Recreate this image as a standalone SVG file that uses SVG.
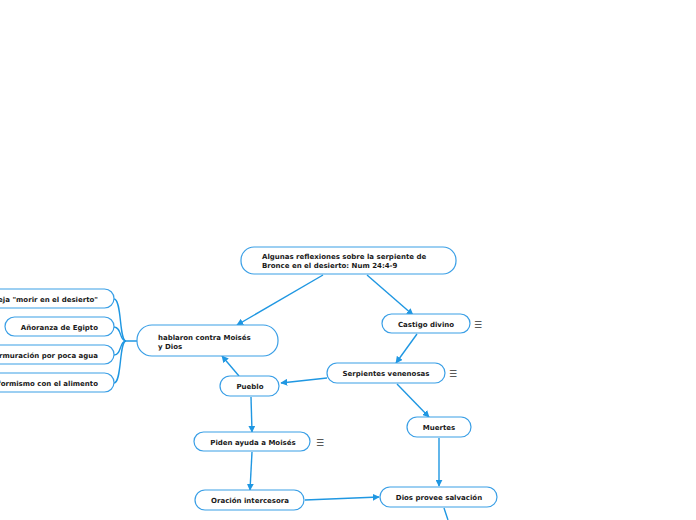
<svg xmlns="http://www.w3.org/2000/svg" width="696" height="520" viewBox="0 0 696 520">
<style>
.n{fill:#fff;stroke:#3a9fe6;stroke-width:1.2}
.t{font-family:"DejaVu Sans",Verdana,sans-serif;font-size:7px;font-weight:bold;fill:#1a1a1a}
.c{fill:none;stroke:#1f97e2;stroke-width:1.4}
.i{font-family:"DejaVu Sans",sans-serif;font-size:9px;fill:#333}
</style>
<defs>
<marker id="a" viewBox="0 0 10 10" refX="9" refY="5" markerWidth="7" markerHeight="7" markerUnits="userSpaceOnUse" orient="auto">
<path d="M0,0 L10,5 L0,10 z" fill="#1f97e2"/>
</marker>
</defs>
<rect width="696" height="520" fill="#fff"/>
<g id="connectors">
<path class="c" d="M323,275 L237,325" marker-end="url(#a)"/>
<path class="c" d="M367,275 L413,315" marker-end="url(#a)"/>
<path class="c" d="M417,334 L396,363" marker-end="url(#a)"/>
<path class="c" d="M327,378 L281,383" marker-end="url(#a)"/>
<path class="c" d="M397,384 L429,417" marker-end="url(#a)"/>
<path class="c" d="M239,376 L222,356" marker-end="url(#a)"/>
<path class="c" d="M251,397 L252,432" marker-end="url(#a)"/>
<path class="c" d="M252,452 L250,490" marker-end="url(#a)"/>
<path class="c" d="M305,500 L379,497" marker-end="url(#a)"/>
<path class="c" d="M439,438 L439,486" marker-end="url(#a)"/>
<path class="c" d="M444,508 L448,520"/>
<path class="c" d="M137,341 L126,341 C119,341 122,299 114,299"/>
<path class="c" d="M126,341 C119,341 122,327 114,327"/>
<path class="c" d="M126,341 C119,341 122,355 114,355"/>
<path class="c" d="M126,341 C119,341 122,383 114,383"/>
</g>
<g id="root"><rect class="n" x="241" y="247" width="215" height="27" rx="13"/>
<text class="t" x="262" y="259">Algunas reflexiones sobre la serpiente de</text>
<text class="t" x="262" y="268">Bronce en el desierto: Num 24:4-9</text></g>
<g id="hablaron"><rect class="n" x="137" y="325" width="141" height="31" rx="15"/>
<text class="t" x="158" y="340">hablaron contra Moisés</text>
<text class="t" x="158" y="349">y Dios</text></g>
<g id="castigo"><rect class="n" x="382" y="314" width="88" height="19" rx="9.5"/>
<text class="t" x="426" y="327" text-anchor="middle">Castigo divino</text>
<text class="i" x="474" y="328">☰</text></g>
<g id="serpientes"><rect class="n" x="327" y="363" width="118" height="20" rx="10"/>
<text class="t" x="386" y="376" text-anchor="middle">Serpientes venenosas</text>
<text class="i" x="449" y="377">☰</text></g>
<g id="muertes"><rect class="n" x="407" y="417" width="64" height="20" rx="10"/>
<text class="t" x="439" y="430" text-anchor="middle">Muertes</text></g>
<g id="pueblo"><rect class="n" x="220" y="376" width="59" height="20" rx="10"/>
<text class="t" x="250" y="389" text-anchor="middle">Pueblo</text></g>
<g id="piden"><rect class="n" x="194" y="432" width="116" height="19" rx="9.5"/>
<text class="t" x="253" y="445" text-anchor="middle">Piden ayuda a Moisés</text>
<text class="i" x="316" y="446">☰</text></g>
<g id="oracion"><rect class="n" x="195" y="490" width="109" height="20" rx="10"/>
<text class="t" x="250" y="503" text-anchor="middle">Oración intercesora</text></g>
<g id="dios"><rect class="n" x="380" y="487" width="117" height="20" rx="10"/>
<text class="t" x="439" y="500" text-anchor="middle">Dios provee salvación</text></g>
<g id="queja"><rect class="n" x="-40" y="289" width="154" height="19" rx="9.5"/>
<text class="t" x="98" y="302" text-anchor="end">Queja "morir en el desierto"</text></g>
<g id="anoranza"><rect class="n" x="5" y="317" width="109" height="19" rx="9.5"/>
<text class="t" x="98" y="330" text-anchor="end">Añoranza de Egipto</text></g>
<g id="murmuracion"><rect class="n" x="-40" y="345" width="154" height="19" rx="9.5"/>
<text class="t" x="98" y="358" text-anchor="end">Murmuración por poca agua</text></g>
<g id="conformismo"><rect class="n" x="-40" y="373" width="154" height="19" rx="9.5"/>
<text class="t" x="98" y="386" text-anchor="end">Conformismo con el alimento</text></g>
</svg>
